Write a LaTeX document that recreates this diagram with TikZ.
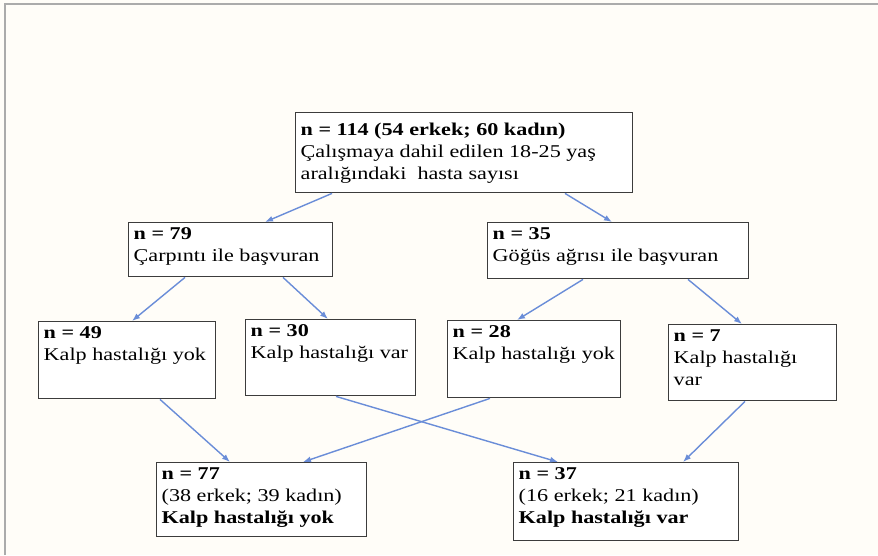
\documentclass[tikz,border=0pt]{standalone}
\usepackage{fontspec}
\setmainfont{Liberation Serif}[FakeStretch=1.23]
\usetikzlibrary{arrows.meta}
\definecolor{arrowBlue}{HTML}{6A8DD8}
\definecolor{boxGray}{HTML}{3C3C3C}
\definecolor{paper}{HTML}{FFFDF8}
\definecolor{frameGray}{HTML}{ABABAB}
% box text: width, height, lines
\newcommand{\boxtext}[3]{\parbox[t][#2][t]{#1}{\raggedright #3}}

\begin{document}
\begin{tikzpicture}[>={Latex[length=8pt,width=6pt]}, x=1pt, y=-1pt]
    % Set primary nodes
    \tikzset{
        entity/.style={
                rectangle,
                draw=boxGray,
                line width=1.4pt,
                fill=white,
                anchor=north west,
                inner sep=5pt,
                font=\fontsize{18}{22}\selectfont
            }
    }
    \tikzset{
        link/.style={
                ->,
                draw=arrowBlue,
                line width=1.4pt
            }
    }
    % Page and frame
    \useasboundingbox (0,0) rectangle (878,555);
    \fill[paper] (0,0) rectangle (878,555);
    \draw[frameGray, line width=2pt] (5,555) -- (5,4) -- (878,4);
    % Placing nodes
    \node[entity, inner ysep=10pt] (total) at (295,112) {\boxtext{327pt}{60pt}{\textbf{n = 114 (54 erkek; 60 kadın)}\\
        Çalışmaya dahil edilen 18-25 yaş\\ aralığındaki~ hasta sayısı}};
    \node[entity] (palp) at (128,222) {\boxtext{194pt}{44pt}{\textbf{n = 79}\\ Çarpıntı ile başvuran}};
    \node[entity] (chest) at (487,222) {\boxtext{251pt}{46pt}{\textbf{n = 35}\\ Göğüs ağrısı ile başvuran}};
    \node[entity] (palpNo) at (38,321) {\boxtext{167pt}{67pt}{\textbf{n = 49}\\ \mbox{Kalp hastalığı yok}}};
    \node[entity] (palpYes) at (245,319) {\boxtext{160pt}{66pt}{\textbf{n = 30}\\ \mbox{Kalp hastalığı var}}};
    \node[entity] (chestNo) at (447,320) {\boxtext{163pt}{67pt}{\textbf{n = 28}\\ \mbox{Kalp hastalığı yok}}};
    \node[entity] (chestYes) at (668,324) {\boxtext{158pt}{66pt}{\textbf{n = 7}\\ Kalp hastalığı\\ var}};
    \node[entity] (allNo) at (156,462) {\boxtext{200pt}{64pt}{\textbf{n = 77}\\ (38 erkek; 39 kadın)\\
        \textbf{Kalp hastalığı yok}}};
    \node[entity] (allYes) at (513,462) {\boxtext{215pt}{68pt}{\textbf{n = 37}\\ (16 erkek; 21 kadın)\\
        \textbf{Kalp hastalığı var}}};
    % Placing arrows
    \draw[link] ([xshift=37pt]total.south west) -- ([xshift=137pt]palp.north west);
    \draw[link] ([xshift=270pt]total.south west) -- ([xshift=125pt]chest.north west);
    \draw[link] ([xshift=57pt]palp.south west) -- ([xshift=94pt]palpNo.north west);
    \draw[link] ([xshift=155pt]palp.south west) -- ([xshift=83pt]palpYes.north west);
    \draw[link] ([xshift=96pt]chest.south west) -- ([xshift=70pt]chestNo.north west);
    \draw[link] ([xshift=201pt]chest.south west) -- ([xshift=74pt]chestYes.north west);
    \draw[link] ([xshift=122pt]palpNo.south west) -- ([xshift=74pt]allNo.north west);
    \draw[link] ([xshift=91pt]palpYes.south west) -- ([xshift=45pt]allYes.north west);
    \draw[link] ([xshift=43pt]chestNo.south west) -- ([xshift=147pt]allNo.north west);
    \draw[link] ([xshift=77pt]chestYes.south west) -- ([xshift=170pt]allYes.north west);
\end{tikzpicture}
\end{document}
